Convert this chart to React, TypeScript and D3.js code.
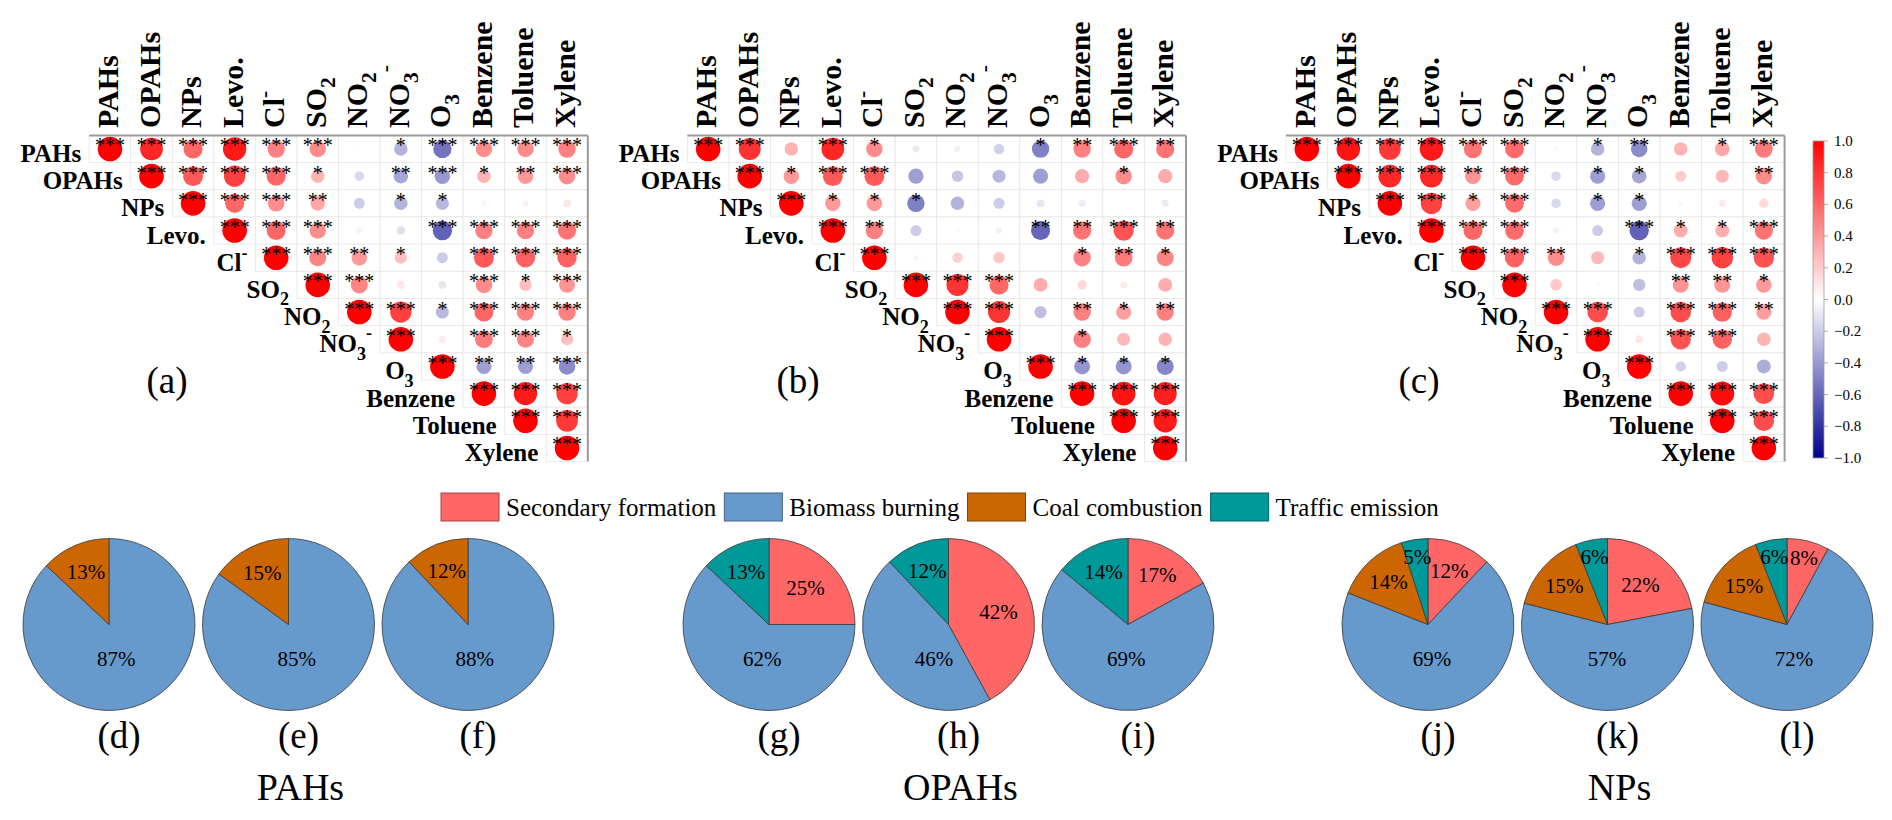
import React, { useMemo } from "react";
import * as d3 from "d3";

// ---------- correlation data ----------
const variables = ["PAHs", "OPAHs", "NPs", "Levo.", "Cl-", "SO2", "NO2", "NO3-", "O3", "Benzene", "Toluene", "Xylene"];

// upper triangle rows, each row starts at the diagonal
const corrA: number[][] = [
  [1, 0.85, 0.6, 0.9, 0.5, 0.45, 0.02, -0.3, -0.55, 0.45, 0.45, 0.5],
  [1, 0.65, 0.75, 0.6, 0.3, -0.15, -0.35, -0.4, 0.3, 0.4, 0.45],
  [1, 0.6, 0.45, 0.35, -0.2, -0.3, -0.28, 0.05, 0.06, 0.1],
  [1, 0.6, 0.45, 0.06, -0.12, -0.62, 0.5, 0.5, 0.55],
  [1, 0.48, 0.4, 0.25, -0.2, 0.65, 0.62, 0.62],
  [1, 0.48, 0.1, -0.1, 0.45, 0.25, 0.42],
  [1, 0.75, -0.28, 0.6, 0.5, 0.5],
  [1, 0.08, 0.52, 0.48, 0.25],
  [1, -0.38, -0.38, -0.45],
  [1, 0.9, 0.75],
  [1, 0.78],
  [1],
];
const sigA: number[][] = [
  [3, 3, 3, 3, 3, 3, 0, 1, 3, 3, 3, 3],
  [3, 3, 3, 3, 1, 0, 2, 3, 1, 2, 3],
  [3, 3, 3, 2, 0, 1, 1, 0, 0, 0],
  [3, 3, 3, 0, 0, 3, 3, 3, 3],
  [3, 3, 2, 1, 0, 3, 3, 3],
  [3, 3, 0, 0, 3, 1, 3],
  [3, 3, 1, 3, 3, 3],
  [3, 0, 3, 3, 1],
  [3, 2, 2, 3],
  [3, 3, 3],
  [3, 3],
  [3],
];

const corrB: number[][] = [
  [1, 0.8, 0.3, 0.85, 0.45, -0.08, -0.06, -0.18, -0.5, 0.5, 0.6, 0.55],
  [1, 0.4, 0.65, 0.65, -0.38, -0.22, -0.28, -0.38, 0.33, 0.45, 0.33],
  [1, 0.4, 0.4, -0.5, -0.3, -0.2, -0.1, -0.08, 0, -0.08],
  [1, 0.5, -0.2, -0.03, -0.06, -0.6, 0.55, 0.68, 0.55],
  [1, 0.05, 0.18, 0.22, 0, 0.5, 0.52, 0.48],
  [1, 0.8, 0.6, 0.32, 0.15, 0.08, 0.32],
  [1, 0.8, -0.25, 0.5, 0.38, 0.5],
  [1, 0, 0.5, 0.28, 0.3],
  [1, -0.42, -0.42, -0.48],
  [1, 0.92, 0.88],
  [1, 0.9],
  [1],
];
const sigB: number[][] = [
  [3, 3, 0, 3, 1, 0, 0, 0, 1, 2, 3, 2],
  [3, 1, 3, 3, 0, 0, 0, 0, 0, 1, 0],
  [3, 1, 1, 1, 0, 0, 0, 0, 0, 0],
  [3, 2, 0, 0, 0, 2, 2, 3, 2],
  [3, 0, 0, 0, 0, 1, 2, 1],
  [3, 3, 3, 0, 0, 0, 0],
  [3, 3, 0, 2, 1, 2],
  [3, 0, 1, 0, 0],
  [3, 1, 1, 1],
  [3, 3, 3],
  [3, 3],
  [3],
];

const corrC: number[][] = [
  [1, 0.92, 0.78, 0.9, 0.55, 0.58, -0.03, -0.3, -0.45, 0.3, 0.35, 0.52],
  [1, 0.85, 0.85, 0.42, 0.58, -0.15, -0.38, -0.35, 0.2, 0.28, 0.45],
  [1, 0.75, 0.38, 0.58, -0.15, -0.38, -0.38, 0.04, 0.08, 0.15],
  [1, 0.6, 0.58, 0.06, -0.2, -0.62, 0.32, 0.32, 0.55],
  [1, 0.62, 0.45, 0.28, -0.3, 0.72, 0.75, 0.68],
  [1, 0.22, 0.03, -0.25, 0.42, 0.42, 0.4],
  [1, 0.7, -0.2, 0.7, 0.62, 0.38],
  [1, 0.1, 0.68, 0.62, 0.3],
  [1, -0.18, -0.2, -0.32],
  [1, 0.95, 0.7],
  [1, 0.7],
  [1],
];
const sigC: number[][] = [
  [3, 3, 3, 3, 3, 3, 0, 1, 2, 0, 1, 3],
  [3, 3, 3, 2, 3, 0, 1, 1, 0, 0, 2],
  [3, 3, 1, 3, 0, 1, 1, 0, 0, 0],
  [3, 3, 3, 0, 0, 3, 1, 1, 3],
  [3, 3, 2, 0, 1, 3, 3, 3],
  [3, 0, 0, 0, 2, 2, 1],
  [3, 3, 0, 3, 3, 2],
  [3, 0, 3, 3, 0],
  [3, 0, 0, 0],
  [3, 3, 3],
  [3, 3],
  [3],
];

const panelLabels = ["(a)", "(b)", "(c)"];
const colorbarTicks = [1.0, 0.8, 0.6, 0.4, 0.2, 0.0, -0.2, -0.4, -0.6, -0.8, -1.0];

// ---------- source apportionment data ----------
const sources = ["Secondary formation", "Biomass burning", "Coal combustion", "Traffic emission"];
const sourceColors = ["#FF6666", "#6699CC", "#CC6600", "#009999"];
const pieLabels = ["(d)", "(e)", "(f)", "(g)", "(h)", "(i)", "(j)", "(k)", "(l)"];
const pieGroups = ["PAHs", "OPAHs", "NPs"];
const secondary = [0, 0, 0, 25, 42, 17, 12, 22, 8];
const biomass = [87, 85, 88, 62, 46, 69, 69, 57, 72];
const coal = [13, 15, 12, 0, 0, 0, 14, 15, 15];
const traffic = [0, 0, 0, 13, 12, 14, 5, 6, 6];

// ---------- layout ----------
const W = 1892;
const H = 820;
const FONT = "'Liberation Serif','Times New Roman',serif";
const CW = 41.55;
const CH = 27.18;
const matLeft = [89.2, 687.4, 1286.0];
const matTop = 135.4;
const panelLabelX = [167, 798, 1419];
const groupX = [109, 769, 1428];
const piePitch = 179.5;
const pieCY = 624.5;
const pieR = 86;

const labelParts: Record<string, { base: string; sub?: string; sup?: string }> = {
  "PAHs": { base: "PAHs" },
  "OPAHs": { base: "OPAHs" },
  "NPs": { base: "NPs" },
  "Levo.": { base: "Levo." },
  "Cl-": { base: "Cl", sup: "-" },
  "SO2": { base: "SO", sub: "2" },
  "NO2": { base: "NO", sub: "2" },
  "NO3-": { base: "NO", sub: "3", sup: "-" },
  "O3": { base: "O", sub: "3" },
  "Benzene": { base: "Benzene" },
  "Toluene": { base: "Toluene" },
  "Xylene": { base: "Xylene" },
};

function labelTspans(name: string, fs: number) {
  const p = labelParts[name];
  const out: React.ReactNode[] = [<tspan key="b">{p.base}</tspan>];
  if (p.sub) out.push(<tspan key="s" dy={0.3 * fs} fontSize={0.72 * fs}>{p.sub}</tspan>);
  if (p.sup) out.push(<tspan key="p" dy={p.sub ? -0.85 * fs : -0.45 * fs} fontSize={0.72 * fs}>{p.sup}</tspan>);
  return out;
}

const color = d3.scaleLinear<string>().domain([-1, 0, 1]).range(["#00008B", "#FFFFFF", "#FF0000"]).interpolate(d3.interpolateRgb);
const rScale = d3.scaleSqrt().domain([0, 1]).range([0, 12.3]);

function Matrix({ idx, corr, sig }: { idx: number; corr: number[][]; sig: number[][] }) {
  const left = matLeft[idx];
  const x = d3.scaleBand<string>().domain(variables).range([left, left + CW * variables.length]);
  const y = d3.scaleBand<string>().domain(variables).range([matTop, matTop + CH * variables.length]);
  const cells: React.ReactNode[] = [];
  const marks: React.ReactNode[] = [];
  variables.forEach((rv, i) => {
    corr[i].forEach((v, k) => {
      const j = i + k;
      const cv = variables[j];
      const x0 = x(cv)!;
      const y0 = y(rv)!;
      const cx = x0 + CW / 2;
      const cy = y0 + CH / 2;
      cells.push(<rect key={`r${i}-${j}`} x={x0} y={y0} width={CW} height={CH} fill="#fff" stroke="#E6E6E6" strokeWidth={0.8} />);
      const rr = rScale(Math.abs(v));
      if (rr > 0.3) marks.push(<circle key={`c${i}-${j}`} cx={cx} cy={cy} r={rr} fill={color(v)} />);
      const n = sig[i][k];
      if (n > 0)
        marks.push(
          <text key={`t${i}-${j}`} x={cx} y={cy + 3.5} textAnchor="middle" fontSize={20} fontFamily={FONT} fill="#000">
            {"*".repeat(n)}
          </text>
        );
    });
  });
  const right = left + CW * variables.length;
  const bottom = matTop + CH * variables.length;
  return (
    <g>
      {cells}
      {marks}
      <line x1={left} x2={right} y1={matTop} y2={matTop} stroke="#9A9A9A" strokeWidth={2} />
      <line x1={right} x2={right} y1={matTop} y2={bottom} stroke="#9A9A9A" strokeWidth={2} />
      {variables.map((v) => (
        <text key={`h${v}`} transform={`translate(${x(v)! + CW / 2 + 8},128) rotate(-90)`} fontSize={30} fontWeight="bold" fontFamily={FONT} fill="#000">
          {labelTspans(v, 30)}
        </text>
      ))}
      {variables.map((v) => (
        <text key={`l${v}`} x={x(v)! - 8} y={y(v)! + CH / 2 + 13} textAnchor="end" fontSize={25} fontWeight="bold" fontFamily={FONT} fill="#000">
          {labelTspans(v, 25)}
        </text>
      ))}
      <text x={panelLabelX[idx]} y={393} textAnchor="middle" fontSize={37} fontFamily={FONT} fill="#000">
        {panelLabels[idx]}
      </text>
    </g>
  );
}

function Colorbar() {
  const x0 = 1813;
  const w = 11;
  const yS = d3.scaleLinear().domain([1, -1]).range([141, 458]);
  const stops = d3.range(0, 1.0001, 0.1).map((t) => ({ off: t, c: color(1 - 2 * t) }));
  return (
    <g>
      <defs>
        <linearGradient id="cbg" x1="0" y1="0" x2="0" y2="1">
          {stops.map((s, i) => (
            <stop key={i} offset={`${s.off * 100}%`} stopColor={s.c} />
          ))}
        </linearGradient>
      </defs>
      <rect x={x0} y={yS(1)} width={w} height={yS(-1) - yS(1)} fill="url(#cbg)" stroke="#9A9A9A" strokeWidth={0.8} />
      {colorbarTicks.map((t) => (
        <g key={t}>
          <line x1={x0 + w} x2={x0 + w + 4} y1={yS(t)} y2={yS(t)} stroke="#999" strokeWidth={0.8} />
          <text x={x0 + w + 10} y={yS(t)} dominantBaseline="central" fontSize={15} fontFamily={FONT} fill="#000">
            {d3.format(".1f")(t)}
          </text>
        </g>
      ))}
    </g>
  );
}

function Pies() {
  const pie = d3.pie<number>().sort(null).value((d) => d);
  const arc = d3.arc<d3.PieArcDatum<number>>().innerRadius(0).outerRadius(pieR);
  const out: React.ReactNode[] = [];
  pieLabels.forEach((lab, p) => {
    const g = Math.floor(p / 3);
    const cx = groupX[g] + (p % 3) * piePitch;
    const vals = [secondary[p], biomass[p], coal[p], traffic[p]];
    const total = d3.sum(vals);
    const arcs = pie(vals);
    arcs.forEach((a, s) => {
      if (a.value <= 0) return;
      out.push(<path key={`p${p}-${s}`} d={arc(a)!} transform={`translate(${cx},${pieCY})`} fill={sourceColors[s]} stroke="#3A3A3A" strokeWidth={0.8} />);
    });
    arcs.forEach((a, s) => {
      if (a.value <= 0) return;
      const frac = a.value / total;
      const mid = (a.startAngle + a.endAngle) / 2;
      let lx: number;
      let ly: number;
      if (frac >= 0.45) {
        lx = cx + 0.21 * pieR * Math.sin(mid);
        ly = pieCY + 0.4 * pieR;
      } else {
        const f = frac < 0.08 ? 0.8 : frac < 0.2 ? 0.67 : 0.6;
        lx = cx + f * pieR * Math.sin(mid);
        ly = pieCY - f * pieR * Math.cos(mid);
      }
      out.push(
        <text key={`pl${p}-${s}`} x={lx} y={ly} textAnchor="middle" dominantBaseline="central" fontSize={21} fontFamily={FONT} fill="#000">
          {`${a.value}%`}
        </text>
      );
    });
    out.push(
      <text key={`pn${p}`} x={cx + 10} y={748} textAnchor="middle" fontSize={37} fontFamily={FONT} fill="#000">
        {lab}
      </text>
    );
  });
  pieGroups.forEach((gname, g) => {
    out.push(
      <text key={`g${g}`} x={groupX[g] + piePitch + 12} y={800} textAnchor="middle" fontSize={38} fontFamily={FONT} fill="#000">
        {gname}
      </text>
    );
  });
  return <g>{out}</g>;
}

function Legend() {
  const widths = useMemo(() => {
    const cv = document.createElement("canvas");
    const ctx = cv.getContext("2d")!;
    ctx.font = `25px ${FONT}`;
    return sources.map((s) => ctx.measureText(s).width);
  }, []);
  const items: React.ReactNode[] = [];
  let xPos = 441;
  sources.forEach((s, i) => {
    const bx = xPos;
    items.push(
      <g key={s}>
        <rect x={bx} y={493} width={58} height={28} fill={sourceColors[i]} stroke={d3.color(sourceColors[i])!.darker(1.2).formatHex()} strokeWidth={1} />
        <text x={bx + 65} y={507} dominantBaseline="central" fontSize={25} fontFamily={FONT} fill="#000">
          {s}
        </text>
      </g>
    );
    xPos = bx + 65 + widths[i] + 8;
  });
  return <g>{items}</g>;
}

export default function App() {
  const mats = [
    { corr: corrA, sig: sigA },
    { corr: corrB, sig: sigB },
    { corr: corrC, sig: sigC },
  ];
  return (
    <svg width={W} height={H} viewBox={`0 0 ${W} ${H}`} style={{ position: "absolute", left: 0, top: 0, background: "#fff" }}>
      <rect x={0} y={0} width={W} height={H} fill="#fff" />
      {mats.map((m, i) => (
        <Matrix key={i} idx={i} corr={m.corr} sig={m.sig} />
      ))}
      <Colorbar />
      <Legend />
      <Pies />
    </svg>
  );
}
